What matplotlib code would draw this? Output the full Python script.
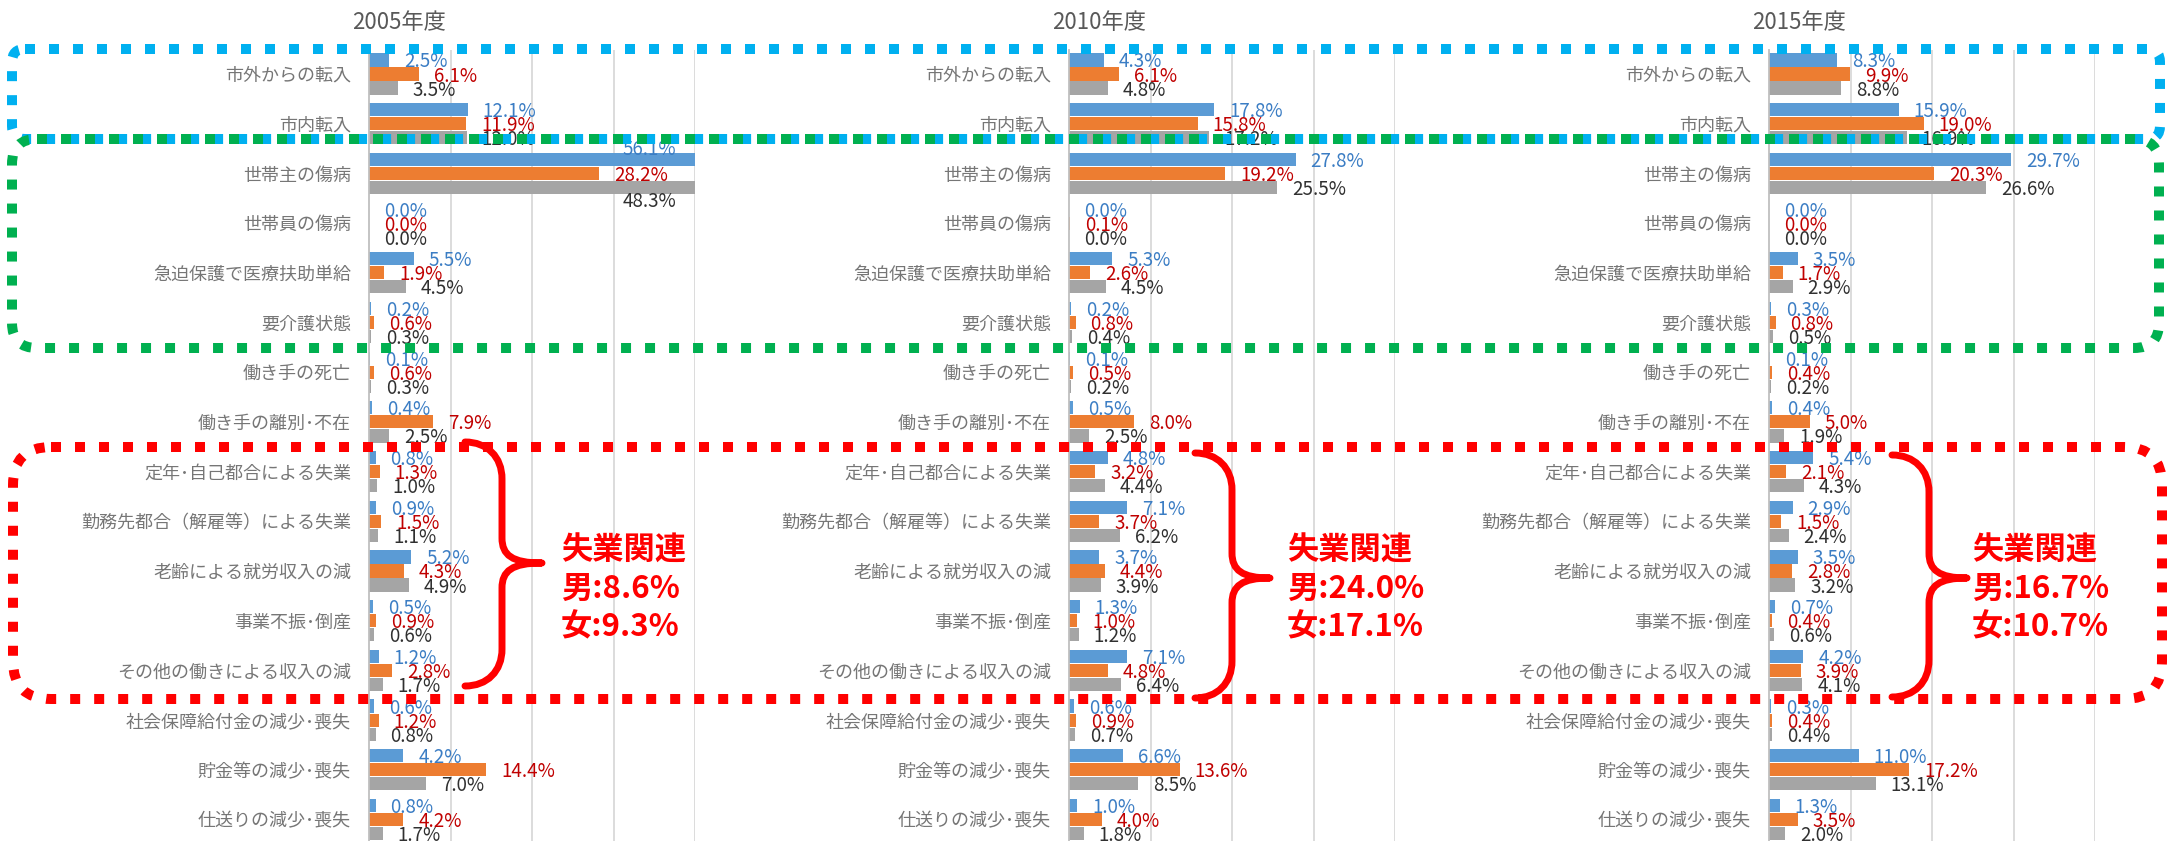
import matplotlib
matplotlib.use('Agg')
import matplotlib.pyplot as plt
import numpy as np
from matplotlib.patches import FancyBboxPatch, PathPatch
from matplotlib.path import Path

plt.rcParams['font.family'] = ['Noto Sans CJK JP', 'DejaVu Sans']

# 項目
categories = ['市外からの転入', '市内転入', '世帯主の傷病', '世帯員の傷病',
              '急迫保護で医療扶助単給', '要介護状態', '働き手の死亡',
              '働き手の離別･不在', '定年･自己都合による失業',
              '勤務先都合（解雇等）による失業', '老齢による就労収入の減',
              '事業不振･倒産', 'その他の働きによる収入の減',
              '社会保障給付金の減少･喪失', '貯金等の減少･喪失', '仕送りの減少･喪失']
years = ['2005年度', '2010年度', '2015年度']

# 値 (%)
blue_2005 = [2.5, 12.1, 56.1, 0.0, 5.5, 0.2, 0.1, 0.4, 0.8, 0.9, 5.2, 0.5, 1.2, 0.6, 4.2, 0.8]
orange_2005 = [6.1, 11.9, 28.2, 0.0, 1.9, 0.6, 0.6, 7.9, 1.3, 1.5, 4.3, 0.9, 2.8, 1.2, 14.4, 4.2]
gray_2005 = [3.5, 12.0, 48.3, 0.0, 4.5, 0.3, 0.3, 2.5, 1.0, 1.1, 4.9, 0.6, 1.7, 0.8, 7.0, 1.7]

blue_2010 = [4.3, 17.8, 27.8, 0.0, 5.3, 0.2, 0.1, 0.5, 4.8, 7.1, 3.7, 1.3, 7.1, 0.6, 6.6, 1.0]
orange_2010 = [6.1, 15.8, 19.2, 0.1, 2.6, 0.8, 0.5, 8.0, 3.2, 3.7, 4.4, 1.0, 4.8, 0.9, 13.6, 4.0]
gray_2010 = [4.8, 17.2, 25.5, 0.0, 4.5, 0.4, 0.2, 2.5, 4.4, 6.2, 3.9, 1.2, 6.4, 0.7, 8.5, 1.8]

blue_2015 = [8.3, 15.9, 29.7, 0.0, 3.5, 0.3, 0.1, 0.4, 5.4, 2.9, 3.5, 0.7, 4.2, 0.3, 11.0, 1.3]
orange_2015 = [9.9, 19.0, 20.3, 0.0, 1.7, 0.8, 0.4, 5.0, 2.1, 1.5, 2.8, 0.4, 3.9, 0.4, 17.2, 3.5]
gray_2015 = [8.8, 16.9, 26.6, 0.0, 2.9, 0.5, 0.2, 1.9, 4.3, 2.4, 3.2, 0.6, 4.1, 0.4, 13.1, 2.0]

# 失業関連の合計
unemp_male = ['8.6%', '24.0%', '16.7%']
unemp_female = ['9.3%', '17.1%', '10.7%']

panels = [(blue_2005, orange_2005, gray_2005),
          (blue_2010, orange_2010, gray_2010),
          (blue_2015, orange_2015, gray_2015)]

bar_colors = ['#5B9BD5', '#ED7D31', '#A5A5A5']
text_colors = ['#3B7DC4', '#C00000', '#303030']

W, H = 2174, 841
fig = plt.figure(figsize=(W / 100, H / 100), dpi=100)

panel_left = [369, 1069, 1769]
panel_w = 326
top_px = 50
row0, row_h = 74, 49.7
xmax = 40
n = len(categories)
y_top = -(row0 - top_px) / row_h
y_bot = y_top + (H - top_px) / row_h

for p, (left, series) in enumerate(zip(panel_left, panels)):
    ax = fig.add_axes([left / W, 0, panel_w / W, 1 - top_px / H])
    ax.patch.set_alpha(0)
    y = np.arange(n)
    for k, vals in enumerate(series):
        yy = y + (k - 1) * 0.282
        ax.barh(yy, vals, height=0.265, color=bar_colors[k], zorder=2)
        for yv, v in zip(yy, vals):
            if v > xmax:
                # 軸の外に出る棒はラベルを内側へ
                dy = {0: 10, 1: 0, 2: -14}[k]
                ax.annotate(f'{v:.1f}%', (xmax, yv), xytext=(-19, dy),
                            textcoords='offset pixels', ha='right', va='center',
                            color=text_colors[k], fontsize=13.5, zorder=3)
            else:
                ax.annotate(f'{v:.1f}%', (v, yv), xytext=(15, -2),
                            textcoords='offset pixels', ha='left', va='center',
                            color=text_colors[k], fontsize=13.5, zorder=3)
    ax.set_xlim(0, xmax)
    ax.set_ylim(y_bot, y_top)
    ax.set_xticks([10, 20, 30, 40])
    ax.xaxis.grid(True, color='#D9D9D9', lw=1.3)
    ax.set_axisbelow(True)
    ax.tick_params(axis='x', length=0, labelbottom=False)
    ax.set_yticks(y, categories)
    ax.tick_params(axis='y', length=0, pad=13, labelsize=13, labelcolor='#767676')
    for s in ['top', 'right', 'bottom']:
        ax.spines[s].set_visible(False)
    ax.spines['left'].set_color('#BFBFBF')
    ax.spines['left'].set_linewidth(1.3)

# 注記用のレイヤー (ピクセル座標)
ov = fig.add_axes([0, 0, 1, 1], zorder=10)
ov.set_xlim(0, W)
ov.set_ylim(H, 0)
ov.axis('off')
ov.patch.set_alpha(0)

for left, yr in zip(panel_left, years):
    ov.text(left + 30, 22, yr, ha='center', va='center', fontsize=16, color='#595959')

# 点線の枠
boxes = [((12, 49), 2148, 90, 13, '#00B0F0'),
         ((12, 139), 2147, 209, 25, '#00B050'),
         ((13, 447), 2149, 252, 38, '#FF0000')]
for (x0, y0), bw, bh, r, c in boxes:
    ov.add_patch(FancyBboxPatch((x0, y0), bw, bh,
                                boxstyle=f'round,pad=0,rounding_size={r}',
                                fill=False, ec=c, lw=7.2, ls=(0, (1.0, 1.4))))

# 中括弧
def brace(x0, xs, xt, ytop, ymid, ybot):
    r = xs - x0
    verts = [(x0, ytop), (x0 + 0.6 * r, ytop), (xs, ytop + 0.4 * r), (xs, ytop + r),
             (xs, ymid - 25),
             (xs, ymid - 8), (xs + 10, ymid), (xt, ymid),
             (xs + 10, ymid), (xs, ymid + 8), (xs, ymid + 25),
             (xs, ybot - r),
             (xs, ybot - 0.4 * r), (x0 + 0.6 * r, ybot), (x0, ybot)]
    codes = [Path.MOVETO, Path.CURVE4, Path.CURVE4, Path.CURVE4,
             Path.LINETO,
             Path.CURVE4, Path.CURVE4, Path.CURVE4,
             Path.CURVE4, Path.CURVE4, Path.CURVE4,
             Path.LINETO,
             Path.CURVE4, Path.CURVE4, Path.CURVE4]
    ov.add_patch(PathPatch(Path(verts, codes), fill=False, ec='#FF0000', lw=5,
                           capstyle='round', joinstyle='round'))

brace_pos = [(465, 502, 542, 442, 563, 686),
             (1195, 1232, 1270, 453, 578, 698),
             (1892, 1929, 1967, 455, 578, 697)]
text_x = [561, 1287, 1972]
for bp, tx, m, f in zip(brace_pos, text_x, unemp_male, unemp_female):
    brace(*bp)
    ov.text(tx, 589, f'失業関連\n男:{m}\n女:{f}', ha='left', va='center',
            fontsize=22.5, fontweight='bold', color='#FF0000', linespacing=1.25)

fig.savefig('out.png', dpi=100)
